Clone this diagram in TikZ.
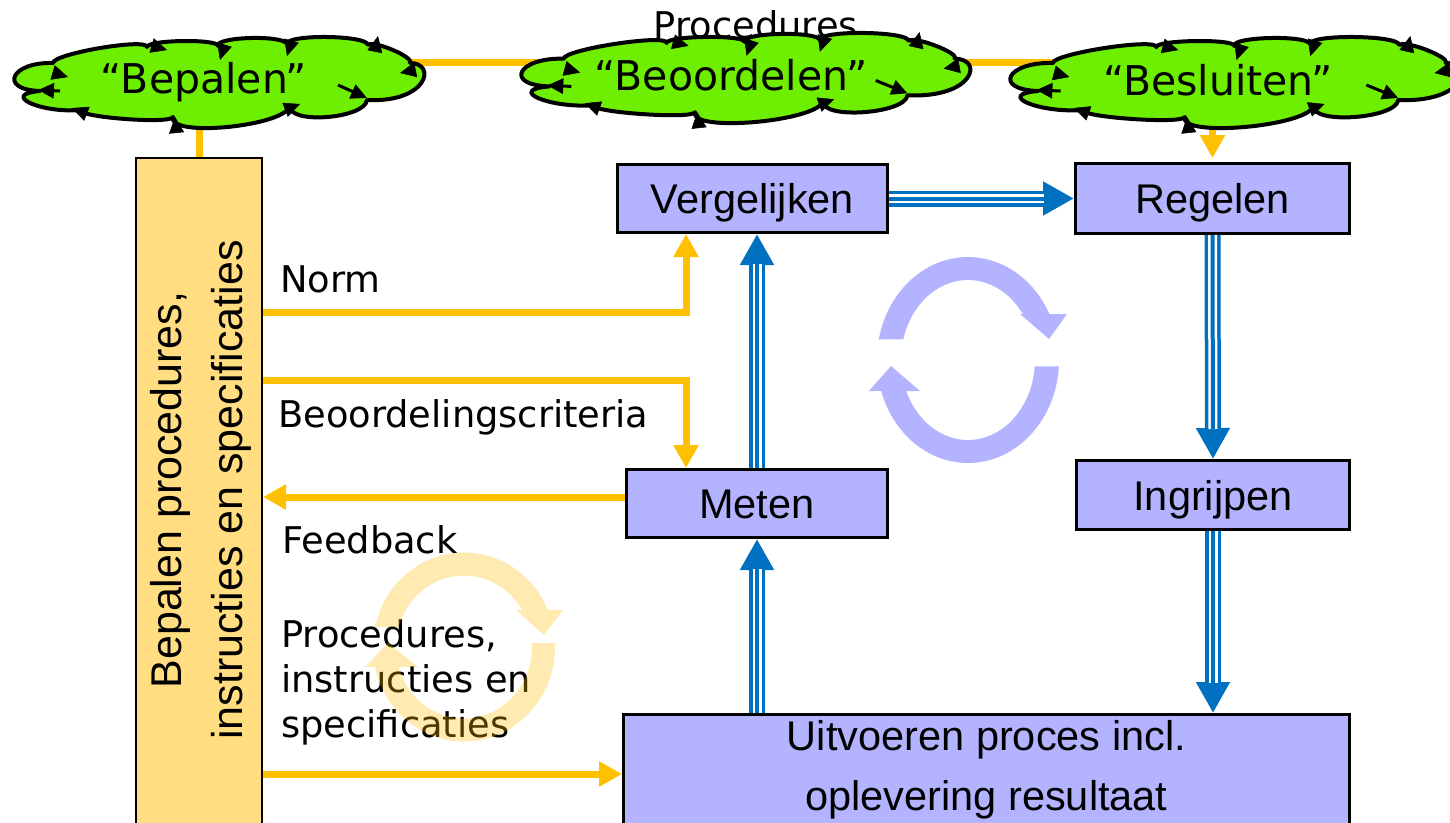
\documentclass[tikz,border=0pt]{standalone}
\usepackage{fontspec}
\newfontfamily\arialf{Liberation Sans}
\newfontfamily\verdf{DejaVu Sans}
\usetikzlibrary{arrows.meta,calc,backgrounds}
\definecolor{boxblue}{HTML}{B3B3FF}
\definecolor{arrblue}{HTML}{0070C0}
\definecolor{ornge}{HTML}{FFC000}
\definecolor{barfill}{HTML}{FFDD80}
\definecolor{cgreen}{RGB}{110,238,0}
\tikzset{
 boxst/.style={draw=black, line width=3pt, fill=boxblue, inner sep=0pt, align=center,
   font=\arialf\fontsize{41.5}{60}\selectfont},
 onel/.style={text height=30pt, text depth=0pt},
 lbl/.style={inner sep=0pt, font=\verdf\fontsize{36.8}{45}\selectfont},
 cloudtxt/.style={inner sep=0pt, font=\verdf\fontsize{41}{48}\selectfont},
 oline/.style={draw=ornge, line width=7pt},
 oarrow/.style={draw=ornge, line width=7pt, -{Triangle[length=23pt,width=24pt]}},
 triarrow/.style={draw=arrblue, line width=16pt, -{Triangle[length=31pt,width=32pt]},
   postaction={draw=white, line width=9pt, shorten >=30pt, -},
   postaction={draw=arrblue, line width=4pt, shorten >=30pt, -}},
 cloudst/.style={draw=black, line width=4pt, fill=cgreen, line join=round},
 ctip/.style={-{Triangle[length=16pt,width=15pt]}, line width=0.5pt, draw=black},
 cline/.style={-{Triangle[length=16pt,width=15pt]}, line width=3pt, draw=black},
 cycb/.style={fill=boxblue},
 cyco/.style={fill=ornge, fill opacity=0.3},
}
% cloud outline, relative to the cloud centre
\newcommand\cloudoutline{%
 \path[cloudst] (-179.5,8.5)
  .. controls (-221.5,7.2) and (-208.5,-20.8) .. (-166.5,-19.5)
  .. controls (-166.5,-28.8) and (-72.5,-44.8) .. (-72.5,-35.5)
  .. controls (-71.8,-42.8) and (-0.8,-43.8) .. (-1.5,-36.5)
  .. controls (-4.8,-45.8) and (64.2,-47.8) .. (67.5,-38.5)
  .. controls (66.8,-48.5) and (147.8,-47.5) .. (148.5,-37.5)
  .. controls (153.8,-42.8) and (195.8,-24.8) .. (190.5,-19.5)
  .. controls (217.5,-19.5) and (208.5,20.5) .. (147.5,17.5)
  .. controls (145.5,36.2) and (68.5,42.2) .. (70.5,23.5)
  .. controls (64.5,44.2) and (-52.5,55.2) .. (-46.5,34.5)
  .. controls (-48.5,41.8) and (-141.5,34.8) .. (-139.5,27.5)
  .. controls (-179.5,30.8) and (-219.5,11.8) .. (-179.5,8.5) -- cycle;
}
\newcommand\cloudarrowset{%
 \draw[ctip] (-58.3,-34.2) -- (-52.5,-32.5);
 \draw[ctip] (2.2,-28.3) -- (0.5,-22.5);
 \draw[ctip] (69.2,-32.3) -- (67.5,-26.5);
 \draw[ctip] (157.3,-40.6) -- (158.5,-46.5);
 \draw[ctip] (186.4,-10.7) -- (180.5,-9.5);
 \draw[cline] (118.5,2.5) -- (147.5,15.5);
 \draw[ctip] (74.9,23.7) -- (80.5,21.5);
 \draw[ctip] (-43.9,40.5) -- (-44.5,34.5);
 \draw[ctip] (-141.9,27.7) -- (-147.5,25.5);
 \draw[cline] (-159.5,8.5) -- (-181.5,7.5);
 \draw[ctip] (-157.3,-7.2) -- (-151.5,-5.5);
}
\begin{document}
\begin{tikzpicture}[x=1pt,y=-1pt]
\useasboundingbox (0,0) rectangle (1450,822);
% helper levels
\coordinate (ty) at (0,62);
\coordinate (ny) at (0,312);
\coordinate (by) at (0,380);
\coordinate (fy) at (0,497);
\coordinate (py) at (0,774);
\coordinate (bepalencloud) at (219.5,82.5);
\coordinate (beoordelencloud) at (746,78);
\coordinate (besluitencloud) at (1236,82.5);

% top label behind cloud
\node[lbl, anchor=base] (proctop) at (756,38) {Procedures};

% clouds
\begin{scope}[shift={(bepalencloud)}] \cloudoutline \cloudarrowset \end{scope}
\begin{scope}[shift={(beoordelencloud)}, xscale=1.095, yscale=0.99] \cloudoutline \cloudarrowset \end{scope}
\begin{scope}[shift={(besluitencloud)}, xscale=1.1] \cloudoutline \cloudarrowset \end{scope}
\node[cloudtxt, anchor=base] (bepalentxt) at (204,93) {“Bepalen”};
\node[cloudtxt, anchor=base] (beoordelentxt) at (731,90) {“Beoordelen”};
\node[cloudtxt, anchor=base] (besluitentxt) at (1218,95) {“Besluiten”};

% left bar
\node[draw=black, line width=2pt, fill=barfill, minimum width=126pt, minimum height=678pt, inner sep=0pt] (bar) at (199,497) {};
\node[rotate=90, align=center, inner sep=0pt, font=\arialf\fontsize{43}{61}\selectfont] (bartext) at (201,490)
  {Bepalen procedures,\\instructies en specificaties};

% boxes
\node[boxst, onel, minimum width=270pt, minimum height=68pt] (vergelijken) at (752.5,198.5) {Vergelijken};
\node[boxst, onel, minimum width=274pt, minimum height=70pt] (regelen) at (1212.5,198.5) {Regelen};
\node[boxst, onel, minimum width=261pt, minimum height=68pt] (meten) at (757,503.5) {Meten};
\node[boxst, onel, minimum width=273pt, minimum height=69pt] (ingrijpen) at (1213,495) {Ingrijpen};
\node[boxst, minimum width=726pt, minimum height=110pt] (uitvoeren) at (986.5,769.5) {Uitvoeren proces incl.\\oplevering resultaat};

% background connectors (behind clouds)
\begin{pgfonlayer}{background}
\fill[white] (0,0) rectangle (1450,822);
\draw[oline] (bepalencloud |- ty) -- (besluitencloud |- ty);
\draw[oline] (bar.north) -- (bar.north |- bepalencloud);
\draw[oarrow, shorten >=4pt] (regelen.north |- besluitencloud) -- (regelen.north);
\end{pgfonlayer}

% labels
\node[lbl, anchor=base west] (norm) at (280,292) {Norm};
\node[lbl, anchor=base west] (crit) at (278,427) {Beoordelingscriteria};
\node[lbl, anchor=base west] (fb) at (282,553) {Feedback};
\node[lbl, anchor=north west, align=left] (procs) at (281,619.2) {Procedures,\\instructies en\\specificaties};

% orange connectors
\draw[oarrow] (bar.east |- ny) -| ([xshift=-66.5pt]vergelijken.south);
\draw[oarrow] (bar.east |- by) -| ([xshift=-71pt]meten.north);
\draw[oarrow] (meten.west |- fy) -- (bar.east |- fy);
\draw[oarrow] (bar.east |- py) -- (uitvoeren.west |- py);

% blue triple connectors
\draw[triarrow] (vergelijken.east) -- (regelen.west);
\draw[triarrow] (meten.north) -- (meten.north |- vergelijken.south);
\draw[triarrow] (meten.south |- uitvoeren.north) -- (meten.south);
\draw[triarrow] (regelen.south) -- (ingrijpen.north);
\draw[triarrow] (ingrijpen.south) -- (ingrijpen.south |- uitvoeren.north);

% blue cycle
\fill[cycb] (878.8,339.5) arc[start angle=191.5, end angle=333.5, x radius=91, y radius=103]
  -- (1067,314) -- (1049,339) -- (1020,314) -- (1022.8,314)
  arc[start angle=324.9, end angle=194.9, x radius=67, y radius=80] -- cycle;
\fill[cycb] (1058.8,366.4) arc[start angle=3.56, end angle=162.5, x radius=91, y radius=103]
  -- (869,391) -- (891,366) -- (920,391) -- (906.2,391)
  arc[start angle=157.2, end angle=4.59, x radius=67, y radius=80] -- cycle;

% orange cycle (semi-transparent, over text)
\fill[cyco] (375.1,627) arc[start angle=192.2, end angle=336.95, x radius=91, y radius=94.5]
  -- (563,610) -- (544,635) -- (516,610) -- (522.1,610)
  arc[start angle=328.8, end angle=196.2, x radius=68, y radius=71.5] -- cycle;
\fill[cyco] (554.9,643) arc[start angle=-2.43, end angle=167.8, x radius=91, y radius=94.5]
  -- (365,667) -- (388,643) -- (418,667) -- (398.7,667)
  arc[start angle=163.8, end angle=-3.2, x radius=68, y radius=71.5] -- cycle;
\end{tikzpicture}
\end{document}
